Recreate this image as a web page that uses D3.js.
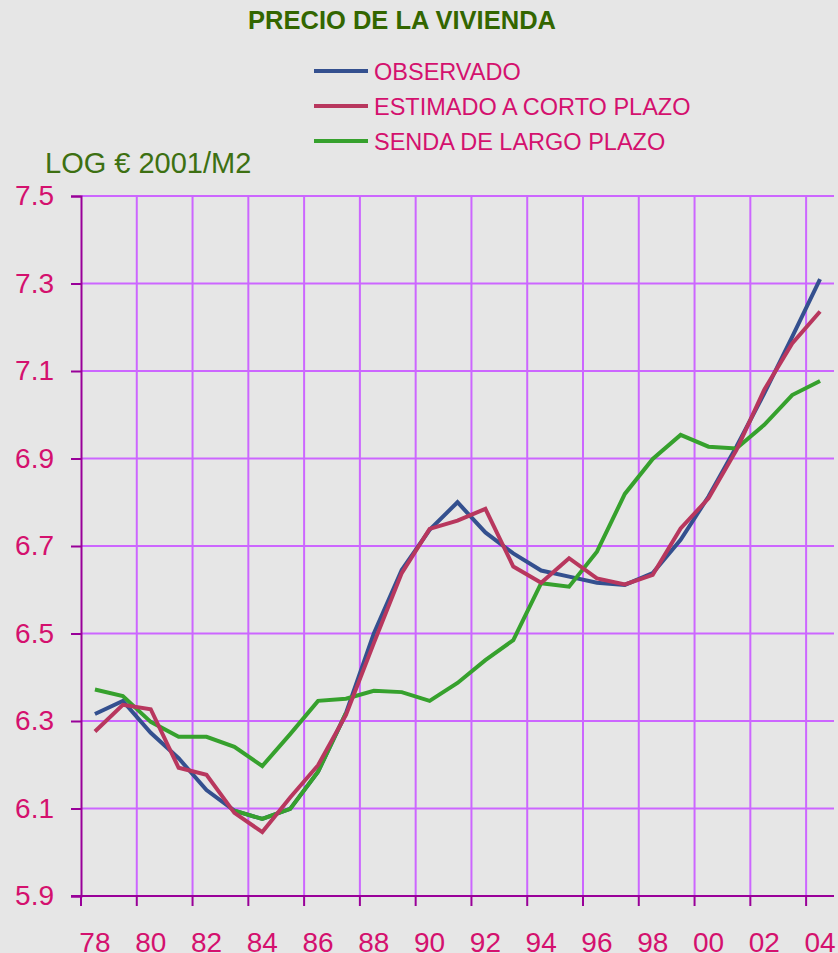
<!DOCTYPE html>
<html lang="es">
<head>
  <meta charset="UTF-8">
  <title>Precio de la vivienda</title>
  <style>
    html, body { margin: 0; padding: 0; background: #e6e6e6; }
    svg { display: block; font-family: "Liberation Sans", Arial, sans-serif; }
  </style>
</head>
<body>
  <svg id="chart"></svg>

  <script src="https://d3js.org/d3.v7.min.js"></script>
  <script>
    // datos
    var years = [1978, 1979, 1980, 1981, 1982, 1983, 1984, 1985, 1986, 1987, 1988, 1989, 1990, 1991,
      1992, 1993, 1994, 1995, 1996, 1997, 1998, 1999, 2000, 2001, 2002, 2003, 2004];

    var observado = [6.316, 6.346, 6.273, 6.215, 6.142, 6.095, 6.076, 6.099, 6.184, 6.318, 6.500, 6.645, 6.737, 6.800,
      6.731, 6.683, 6.644, 6.630, 6.616, 6.611, 6.638, 6.714, 6.813, 6.927, 7.049, 7.178, 7.310];

    var estimado = [6.276, 6.337, 6.327, 6.193, 6.177, 6.090, 6.046, 6.125, 6.199, 6.314, 6.478, 6.638, 6.739, 6.758,
      6.785, 6.653, 6.616, 6.672, 6.626, 6.612, 6.634, 6.740, 6.809, 6.919, 7.057, 7.163, 7.236];

    var senda = [6.372, 6.357, 6.298, 6.264, 6.264, 6.241, 6.197, 6.270, 6.346, 6.351, 6.369, 6.366, 6.346, 6.387,
      6.439, 6.485, 6.615, 6.607, 6.687, 6.819, 6.899, 6.954, 6.927, 6.923, 6.977, 7.045, 7.077];

    var yTicks = [5.9, 6.1, 6.3, 6.5, 6.7, 6.9, 7.1, 7.3, 7.5];
    var xTickYears = [1978, 1980, 1982, 1984, 1986, 1988, 1990, 1992, 1994, 1996, 1998, 2000, 2002, 2004];
    var xTickLabels = ["78", "80", "82", "84", "86", "88", "90", "92", "94", "96", "98", "00", "02", "04"];

    var leyenda = ["OBSERVADO", "ESTIMADO A CORTO PLAZO", "SENDA DE LARGO PLAZO"];

    // tramo de la serie observada que sale en verde en el original
    var tramoVerde = [1983, 1987];

    /* medidas (ojo: "top" es de window, no usar) */
    var width = 838, height = 953;
    var plotL = 81, plotR = 834, plotT = 196, plotB = 896;

    var cBlue = "#34508f", cRed = "#b8375e", cGreen = "#36a12d";
    var cGrid = "#cc66ff", cAxis = "#990099", cText = "#d4116e", cTitle = "#336600";

    var svg = d3.select("#chart")
      .attr("width", width)
      .attr("height", height);

    svg.append("rect")
      .attr("width", width)
      .attr("height", height)
      .attr("fill", "#e6e6e6");

    var x = d3.scaleBand()
      .domain(years)
      .range([plotL, plotR]);

    var y = d3.scaleLinear()
      .domain([5.9, 7.5])
      .range([plotB, plotT]);

    /* rejilla */
    svg.append("g")
      .selectAll("line")
      .data(yTicks.slice(1))
      .enter()
      .append("line")
      .attr("x1", plotL)
      .attr("x2", plotR)
      .attr("y1", function (d) { return y(d); })
      .attr("y2", function (d) { return y(d); })
      .attr("stroke", cGrid)
      .attr("stroke-width", 2);

    svg.append("g")
      .selectAll("line")
      .data(xTickYears.slice(1))
      .enter()
      .append("line")
      .attr("x1", function (d) { return x(d); })
      .attr("x2", function (d) { return x(d); })
      .attr("y1", plotT)
      .attr("y2", plotB)
      .attr("stroke", cGrid)
      .attr("stroke-width", 2);

    /* eje Y */
    var axisY = d3.axisLeft(y)
      .tickValues(yTicks)
      .tickSize(10)
      .tickPadding(17)
      .tickFormat(d3.format(".1f"));

    var gy = svg.append("g")
      .attr("transform", "translate(" + plotL + ",0)")
      .call(axisY);
    gy.select(".domain").attr("stroke", cAxis).attr("stroke-width", 2);
    gy.selectAll(".tick line").attr("stroke", cAxis).attr("stroke-width", 2);
    gy.selectAll(".tick text")
      .attr("fill", cText)
      .style("font-size", "28px")
      .style("font-family", "'Liberation Sans', Arial, sans-serif");

    /* eje X: marcas al inicio de cada año par, etiquetas centradas */
    var axisX = d3.axisBottom(x)
      .tickValues(xTickYears)
      .tickSize(0)
      .tickPadding(36)
      .tickFormat(function (d, i) { return xTickLabels[i]; });

    var gx = svg.append("g")
      .attr("transform", "translate(0," + plotB + ")")
      .call(axisX);
    gx.select(".domain").remove();
    gx.selectAll(".tick text")
      .attr("fill", cText)
      .style("font-size", "28px")
      .style("font-family", "'Liberation Sans', Arial, sans-serif");

    svg.append("g")
      .selectAll("line")
      .data(xTickYears)
      .enter()
      .append("line")
      .attr("x1", function (d) { return x(d); })
      .attr("x2", function (d) { return x(d); })
      .attr("y1", plotB)
      .attr("y2", plotB + 10)
      .attr("stroke", cAxis)
      .attr("stroke-width", 2);

    svg.append("line")
      .attr("x1", plotL - 10)
      .attr("x2", plotR)
      .attr("y1", plotB)
      .attr("y2", plotB)
      .attr("stroke", cAxis)
      .attr("stroke-width", 2);

    /* series */
    function serie(vals) {
      return years.map(function (yr, i) { return { year: yr, v: vals[i] }; });
    }

    var line = d3.line()
      .x(function (d) { return x(d.year) + x.bandwidth() / 2; })
      .y(function (d) { return y(d.v); });

    function drawLine(data, color) {
      svg.append("path")
        .datum(data)
        .attr("fill", "none")
        .attr("stroke", color)
        .attr("stroke-width", 4)
        .attr("d", line);
    }

    var obs = serie(observado);
    drawLine(obs, cBlue);
    drawLine(serie(senda), cGreen);
    drawLine(obs.filter(function (d) { return d.year >= tramoVerde[0] && d.year <= tramoVerde[1]; }), cGreen);
    drawLine(serie(estimado), cRed);

    /* titulo */
    svg.append("text")
      .attr("x", 402)
      .attr("y", 29)
      .attr("text-anchor", "middle")
      .attr("fill", cTitle)
      .style("font-size", "25.5px")
      .style("font-weight", "bold")
      .text("PRECIO DE LA VIVIENDA");

    svg.append("text")
      .attr("x", 45)
      .attr("y", 173)
      .attr("fill", "#3d7012")
      .style("font-size", "29px")
      .text("LOG € 2001/M2");

    /* leyenda */
    var legColors = [cBlue, cRed, cGreen];
    var leg = svg.append("g")
      .selectAll("g")
      .data(leyenda)
      .enter()
      .append("g")
      .attr("transform", function (d, i) { return "translate(314," + (71 + i * 35) + ")"; });

    leg.append("line")
      .attr("x1", 0)
      .attr("x2", 54)
      .attr("stroke", function (d, i) { return legColors[i]; })
      .attr("stroke-width", 4);

    leg.append("text")
      .attr("x", 60)
      .attr("y", 8.5)
      .attr("fill", cText)
      .style("font-size", "23.5px")
      .text(function (d) { return d; });
  </script>
</body>
</html>
